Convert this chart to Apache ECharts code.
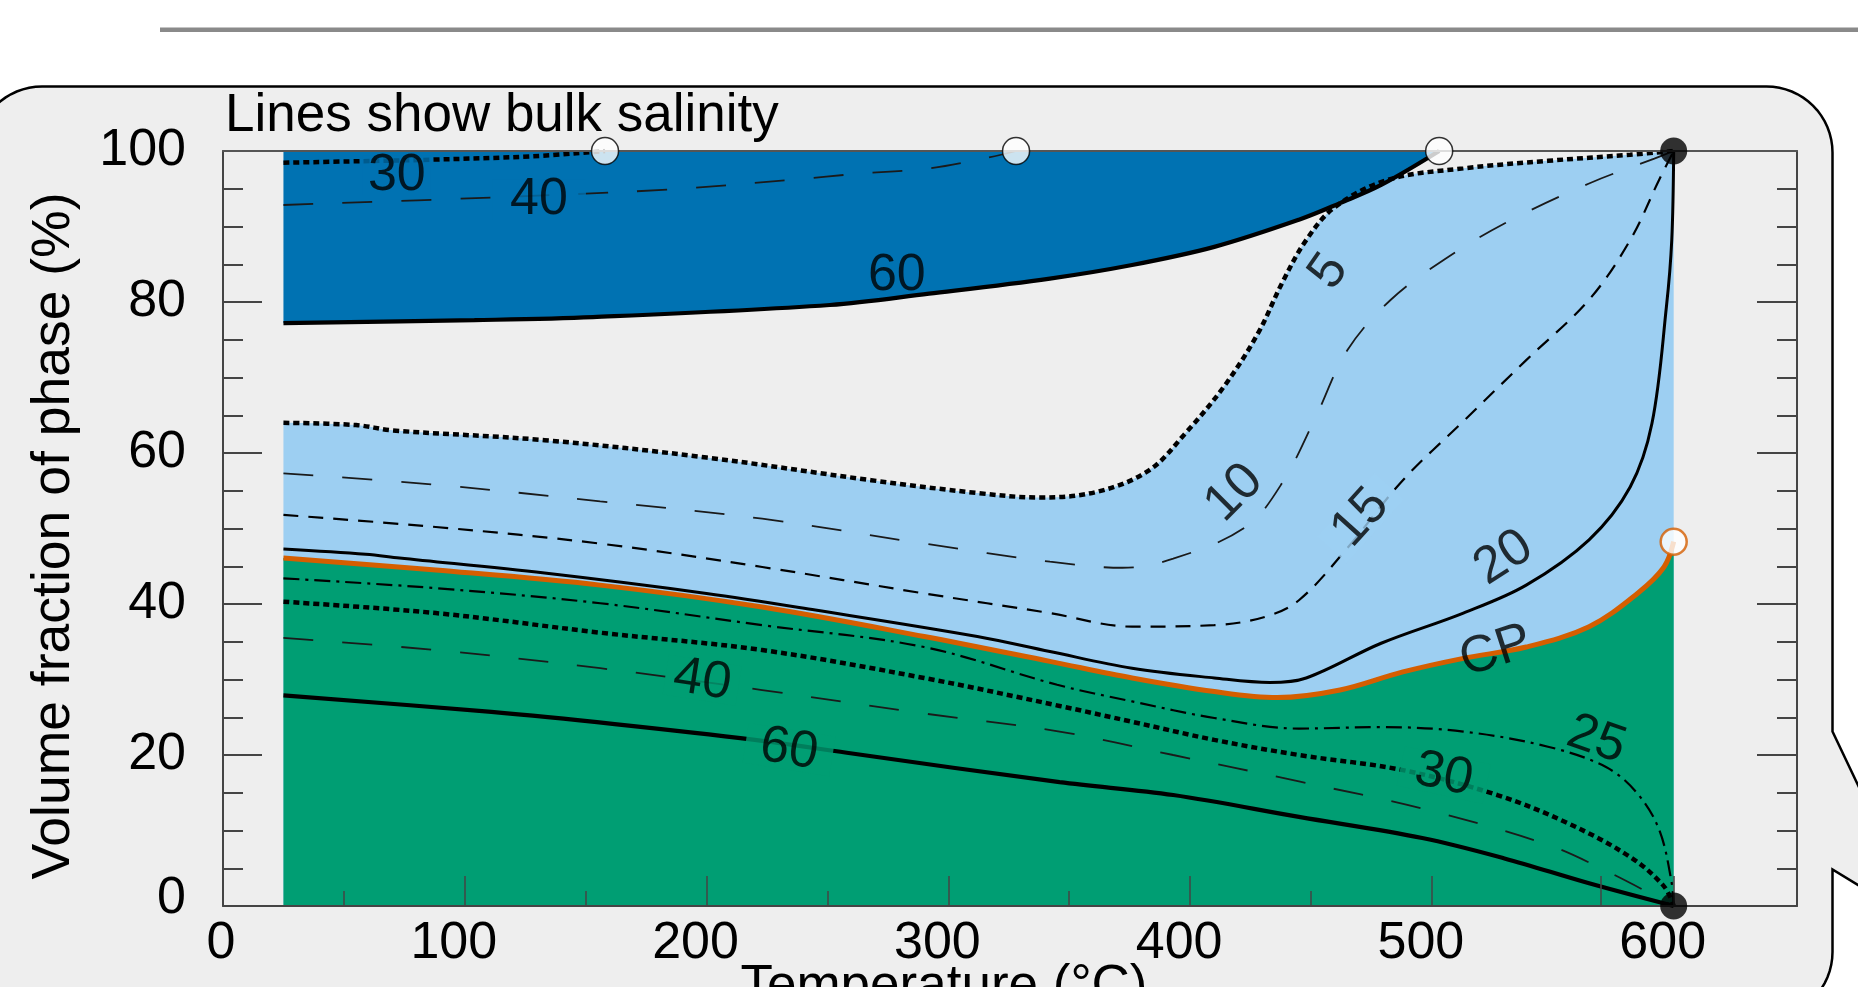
<!DOCTYPE html>
<html>
<head>
<meta charset="utf-8">
<title>Volume fraction of phase vs temperature</title>
<script src="https://cdn.jsdelivr.net/npm/echarts@6/dist/echarts.min.js"></script>
<style>
  html, body { margin: 0; padding: 0; background: #ffffff; }
  #chart { width: 1858px; height: 987px; }
</style>
</head>
<body>
<div id="chart"></div>
<script>
// ---- tick labels ----
const xTickLabels = [0, 100, 200, 300, 400, 500, 600];
const xMajorTicks = [100, 200, 300, 400, 500, 570, 600];
const xMinorTicks = [50, 150, 250, 350, 450];
const yTickLabels = [0, 20, 40, 60, 80, 100];
const yMajorTicks = [20, 40, 60, 80];
const yMinorTicks = [5, 10, 15, 25, 30, 35, 45, 50, 55, 65, 70, 75, 85, 90, 95];

// ---- contour lines of bulk salinity: [temperature °C, volume fraction %] ----
const sal30Upper = [[25, 98.45], [57, 98.65], [86, 98.85], [128, 99.3], [158, 100]];
const sal40Upper = [[25, 92.85], [116, 93.9], [184, 94.9], [236, 96.2], [263, 97.0], [292, 97.7], [316, 99.1], [328, 100]];
const sal60Upper = [[25, 77.2], [104, 77.6], [153, 78.0], [251, 79.6], [292, 81.1], [342, 83.1], [376, 84.9], [410, 87.3], [445, 90.9], [462, 93.1], [479, 95.5], [503, 100]];

const sal5 = [[25, 64.0], [55, 63.7], [70, 63.0], [133, 61.7], [200, 59.4], [268, 56.4], [312, 54.7], [338, 54.1], [362, 54.9], [383, 57.7], [398, 62.6], [414, 68.8], [428, 75.8], [438, 82.5], [448, 88.2], [460, 92.6], [482, 96.2], [513, 97.7], [548, 98.7], [582, 99.5], [600, 100]];
const sal10 = [[25, 57.3], [88, 55.8], [156, 53.6], [223, 51.3], [290, 48.0], [342, 45.6], [372, 44.8], [393, 46.0], [423, 50.2], [438, 56.0], [452, 64.8], [465, 73.6], [483, 80.3], [505, 85.6], [530, 90.4], [565, 95.7], [592, 99.0], [600, 100]];
const sal15 = [[25, 51.8], [88, 50.2], [156, 48.0], [223, 44.9], [290, 41.4], [342, 38.8], [376, 37.0], [410, 37.2], [431, 38.3], [445, 40.5], [465, 47.4], [488, 56.4], [513, 64.2], [539, 72.3], [565, 80.3], [582, 88.2], [594, 96.2], [600, 100]];
const sal20 = [[25, 47.3], [59, 46.6], [73, 46.1], [133, 44.1], [200, 41.4], [245, 39.2], [312, 35.7], [342, 33.7], [376, 31.5], [410, 30.2], [433, 29.6], [448, 30.2], [479, 34.8], [513, 38.8], [539, 42.5], [565, 48.5], [582, 55.5], [591, 63.9], [597, 79.4], [599.2, 88.2], [600, 100]];
const cpCurve = [[25, 46.1], [88, 44.5], [156, 42.5], [223, 39.6], [290, 35.7], [342, 32.4], [376, 30.2], [410, 28.4], [436, 27.6], [462, 28.6], [488, 31.0], [513, 32.8], [539, 34.3], [565, 37.0], [585, 41.4], [596, 44.9], [600, 48.25]];
const sal25 = [[25, 43.4], [88, 42.1], [156, 40.1], [223, 37.2], [290, 34.3], [345, 29.3], [376, 27.1], [410, 24.9], [445, 23.5], [479, 23.7], [513, 23.1], [548, 21.1], [572, 18.4], [585, 14.9], [594, 10.1], [599, 3.4], [600, 0]];
const sal30Lower = [[25, 40.3], [88, 38.8], [156, 36.2], [223, 33.9], [290, 30.2], [346, 26.5], [376, 24.4], [410, 22.0], [445, 20.0], [488, 18.0], [527, 14.7], [556, 11.0], [582, 6.5], [596, 2.6], [600, 0]];
const sal40Lower = [[25, 35.5], [88, 33.9], [156, 31.5], [223, 28.6], [290, 25.5], [346, 23.1], [393, 20.0], [445, 16.5], [496, 12.9], [548, 8.1], [573, 4.5], [600, 0]];
const sal60Lower = [[25, 27.9], [111, 25.7], [162, 24.1], [220, 22.0], [258, 20.3], [346, 16.4], [393, 14.7], [445, 11.8], [496, 9.0], [530, 6.3], [565, 3.0], [600, 0]];

// ---- end points ----
const openPoints = [[158, 100], [328, 100], [503, 100]];
const closedPoints = [[600, 100], [600, 0]];
const cpPoint = [[600, 48.25]];

// ---- contour labels: text and anchor [temperature, volume %] ----
const contourLabelText = ['30', '40', '60', '5', '10', '15', '20', 'CP', '25', '30', '40', '60'];
const contourLabelAt = [[71.9, 96.8], [130.7, 93.6], [278.7, 83.5], [457.5, 84.0], [418.3, 54.7], [470.5, 51.4], [529.7, 46.1], [526.5, 33.7], [568, 22.0], [504.9, 17.35], [198.2, 29.9], [234.1, 20.7]];

// ---- styling ----
const FONT = '"Liberation Sans", Arial, Helvetica, sans-serif';
const DARK_BLUE = '#0072B2';
const LIGHT_BLUE = '#9DCFF2';
const GREEN = '#009E73';
const ORANGE = '#D55E00';
const PANEL = '#EEEEEE';
const AXIS = '#444444';
const SMOOTH = 0.35;

// label rotation (degrees, counter-clockwise) and the fill used to break the line under it
const labelStyle = [
  { rot: 0, mask: DARK_BLUE, pad: 5 },
  { rot: 0, mask: DARK_BLUE, pad: 18 },
  { rot: 0 },
  { rot: 55 },
  { rot: 45 },
  { rot: 48, mask: LIGHT_BLUE, pad: 14 },
  { rot: 33 },
  { rot: 18 },
  { rot: -19 },
  { rot: -12, mask: GREEN, pad: 15 },
  { rot: -9, mask: GREEN, pad: 8 },
  { rot: -9, mask: GREEN, pad: 15 }
];

function fillSeries(data, color, origin) {
  return {
    type: 'line', data: data, smooth: SMOOTH, symbol: 'none', silent: true, z: 1,
    lineStyle: { opacity: 0 },
    areaStyle: { color: color, opacity: 1, origin: origin }
  };
}

function contour(data, color, width, type) {
  return {
    type: 'line', data: data, smooth: SMOOTH, symbol: 'none', silent: true, z: 3,
    lineStyle: { color: color, width: width, type: type, cap: 'butt' }
  };
}

const DOTTED = [6, 4];
const LONG_DASH = [30, 29];
const MID_DASH = [15, 10];
const DASH_DOT = [16, 6, 3, 6];

const labelData = contourLabelText.map((t, i) => {
  const s = labelStyle[i];
  const lab = { rotate: s.rot };
  if (s.mask) {
    lab.backgroundColor = s.mask;
    lab.padding = [0, s.pad];
  }
  return { name: t, value: contourLabelAt[i], label: lab };
});

// outline of the rounded call-out panel with its pointer on the right
function panelOutline() {
  const L = -24, T = 86.5, R = 1832.5, B = 1018, r = 66;
  const pts = [];
  function arc(cx, cy, a0, a1) {
    const n = 16;
    for (let k = 0; k <= n; k++) {
      const a = a0 + (a1 - a0) * k / n;
      pts.push([cx + r * Math.cos(a), cy + r * Math.sin(a)]);
    }
  }
  arc(L + r, T + r, Math.PI, 1.5 * Math.PI);
  arc(R - r, T + r, 1.5 * Math.PI, 2 * Math.PI);
  pts.push([R, 731.5], [1925, 926], [R, 869.5]);
  arc(R - r, B - r, 0, 0.5 * Math.PI);
  arc(L + r, B - r, 0.5 * Math.PI, Math.PI);
  return pts;
}

// a y axis that only draws inward ticks at the given values
function yTickAxis(position, values, length, withLine) {
  return {
    type: 'value', min: 0, max: 100, position: position, z: 5,
    axisLine: { show: withLine, onZero: false, lineStyle: { color: AXIS, width: 2 } },
    axisTick: { show: true, inside: true, length: length, customValues: values, lineStyle: { color: AXIS, width: 2 } },
    axisLabel: { show: false },
    splitLine: { show: false }
  };
}

const tickFont = { fontSize: 52, fontFamily: FONT, color: '#000' };

const chart = echarts.init(document.getElementById('chart'), null, { renderer: 'canvas' });

const option = {
  backgroundColor: '#ffffff',
  animation: false,
  textStyle: { fontFamily: FONT },
  graphic: [
    { type: 'rect', z: -20, silent: true, shape: { x: 160, y: 27.5, width: 1698, height: 4.5 }, style: { fill: '#8a8a8a' } },
    { type: 'polygon', z: -10, silent: true, shape: { points: panelOutline() }, style: { fill: PANEL, stroke: '#000', lineWidth: 2.5 } },
    { type: 'text', z: 20, x: 225, y: 116, silent: true,
      style: { text: 'Lines show bulk salinity', font: '53px ' + FONT, fill: '#000', align: 'left', verticalAlign: 'middle' } },
    { type: 'text', z: 20, x: 54, y: 536, rotation: Math.PI / 2, silent: true,
      style: { text: 'Volume fraction of phase (%)', font: '53.5px ' + FONT, fill: '#000', align: 'center', verticalAlign: 'middle' } },
    { type: 'text', z: 20, x: 944, y: 987, silent: true,
      style: { text: 'Temperature (°C)', font: '53px ' + FONT, fill: '#000', align: 'center', verticalAlign: 'middle' } }
  ],
  grid: { left: 223, right: 61, top: 151, bottom: 81, containLabel: false, show: false },
  xAxis: [
    {
      type: 'value', min: 0, max: 651, position: 'bottom', z: 5,
      axisLine: { show: true, onZero: false, lineStyle: { color: AXIS, width: 2 } },
      axisTick: { show: true, inside: true, length: 30, customValues: xMajorTicks, lineStyle: { color: AXIS, width: 1.5 } },
      axisLabel: {
        show: true, customValues: xTickLabels, margin: 12, ...tickFont,
        formatter: v => (v === 0 ? '{zero|0}' : '{num|' + v + '}'),
        rich: {
          zero: { ...tickFont, padding: [0, 4, 0, 0] },
          num: { ...tickFont, padding: [0, 22, 0, 0] }
        }
      },
      splitLine: { show: false }
    },
    {
      type: 'value', min: 0, max: 651, position: 'bottom', z: 5,
      axisLine: { show: false, onZero: false },
      axisTick: { show: true, inside: true, length: 15, customValues: xMinorTicks, lineStyle: { color: AXIS, width: 1.5 } },
      axisLabel: { show: false },
      splitLine: { show: false }
    },
    {
      type: 'value', min: 0, max: 651, position: 'top', z: 5,
      axisLine: { show: true, onZero: false, lineStyle: { color: '#555', width: 2 } },
      axisTick: { show: false }, axisLabel: { show: false }, splitLine: { show: false }
    }
  ],
  yAxis: [
    {
      type: 'value', min: 0, max: 100, position: 'left', z: 5,
      axisLine: { show: true, onZero: false, lineStyle: { color: AXIS, width: 2 } },
      axisTick: { show: true, inside: true, length: 39, customValues: yMajorTicks, lineStyle: { color: AXIS, width: 2 } },
      axisLabel: {
        show: true, customValues: yTickLabels, margin: 37, ...tickFont,
        formatter: v => (v === 0 ? '{zero|0}' : String(v)),
        rich: { zero: { ...tickFont, padding: [0, 0, 14, 0] } }
      },
      splitLine: { show: false }
    },
    yTickAxis('left', yMinorTicks, 20, false),
    yTickAxis('right', yMajorTicks, 40, true),
    yTickAxis('right', yMinorTicks, 20, false)
  ],
  series: [
    // filled phase fields
    fillSeries(sal5, LIGHT_BLUE, 'start'),
    fillSeries(sal60Upper, DARK_BLUE, 'end'),
    fillSeries(cpCurve, GREEN, 'start'),

    // salinity contours
    contour(sal60Upper, '#000', 4.2, 'solid'),
    contour(sal30Upper, '#000', 4.5, DOTTED),
    contour(sal40Upper, '#1a1a1a', 1.8, LONG_DASH),
    contour(sal5, '#000', 4.5, DOTTED),
    contour(sal10, '#1a1a1a', 1.8, LONG_DASH),
    contour(sal15, '#000', 2.2, MID_DASH),
    contour(sal20, '#000', 3, 'solid'),
    contour(cpCurve, ORANGE, 5, 'solid'),
    contour(sal25, '#000', 2.2, DASH_DOT),
    contour(sal30Lower, '#000', 4.5, DOTTED),
    contour(sal40Lower, '#1a1a1a', 1.8, LONG_DASH),
    contour(sal60Lower, '#000', 4.2, 'solid'),

    // contour labels
    {
      type: 'scatter', data: labelData, symbolSize: 1, silent: true, z: 6,
      itemStyle: { color: 'rgba(0,0,0,0)' },
      label: {
        show: true, position: 'inside', formatter: '{b}', color: '#000',
        fontSize: 52, fontFamily: FONT, lineHeight: 40
      }
    },

    // end points
    {
      type: 'scatter', data: openPoints, symbol: 'circle', symbolSize: 27, silent: true, z: 10,
      itemStyle: { color: '#ffffff', borderColor: '#000', borderWidth: 1.5 }
    },
    {
      type: 'scatter', data: closedPoints, symbol: 'circle', symbolSize: 27, silent: true, z: 10,
      itemStyle: { color: '#000' }
    },
    {
      type: 'scatter', data: cpPoint, symbol: 'circle', symbolSize: 26, silent: true, z: 10,
      itemStyle: { color: '#ffffff', borderColor: ORANGE, borderWidth: 2.5 }
    }
  ]
};

chart.setOption(option);
</script>
</body>
</html>
